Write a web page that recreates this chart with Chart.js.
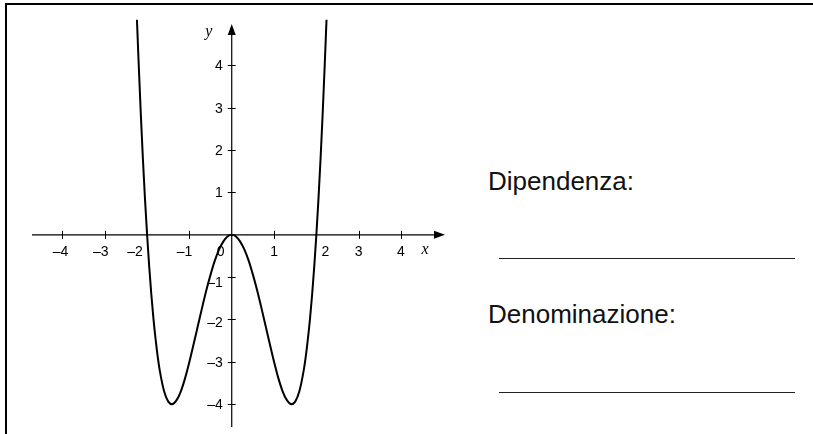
<!DOCTYPE html>
<html lang="it">
<head>
<meta charset="utf-8">
<title>Grafico di funzione</title>
<script src="https://cdn.jsdelivr.net/npm/chart.js@4.4.1/dist/chart.umd.min.js"></script>
<style>
    html, body {
        margin: 0;
        padding: 0;
        background: #fff;
    }
    body {
        width: 813px;
        height: 434px;
        position: relative;
        overflow: hidden;
        font-family: "Liberation Sans", Arial, sans-serif;
    }
    .frame {
        position: absolute;
        left: 5px;
        top: 3px;
        width: 808px;
        height: 431px;
        border-top: 2px solid #000;
        border-left: 2px solid #000;
        box-sizing: border-box;
    }
    .chart-box {
        position: absolute;
        left: 0;
        top: 0;
        width: 460px;
        height: 434px;
    }
    .label {
        position: absolute;
        left: 488px;
        font-size: 26px;
        line-height: 26px;
        color: #111;
        white-space: nowrap;
    }
    .blank {
        position: absolute;
        left: 499px;
        width: 296px;
        border-top: 1px solid #222;
    }
</style>
</head>
<body>
<div class="frame"></div>
<div class="chart-box"><canvas id="functionChart" width="460" height="434"></canvas></div>
<div class="label" style="top:168px">Dipendenza:</div>
<div class="blank" style="top:258px"></div>
<div class="label" style="top:301px">Denominazione:</div>
<div class="blank" style="top:392px"></div>

<script>
// Points
const curveX = [
    -2.24, -2.2, -2.15, -2.1, -2.05, -2.0, -1.95, -1.9, -1.85, -1.8, -1.75, -1.7,
    -1.6, -1.5, -1.41, -1.3, -1.2, -1.1, -1.0, -0.9, -0.8, -0.7, -0.6, -0.5,
    -0.4, -0.3, -0.2, -0.1, 0,
    0.1, 0.2, 0.3, 0.4, 0.5, 0.6, 0.7, 0.8, 0.9, 1.0, 1.1, 1.2, 1.3,
    1.41, 1.5, 1.6, 1.7, 1.75, 1.8, 1.85, 1.9, 1.95, 2.0, 2.05, 2.1,
    2.15, 2.2, 2.24
];
const curveY = [
    5.08, 4.07, 2.88, 1.81, 0.85, 0, -0.75, -1.41, -1.98, -2.46, -2.87, -3.21,
    -3.69, -3.94, -4.0, -3.90, -3.69, -3.38, -3.0, -2.58, -2.15, -1.72, -1.31, -0.94,
    -0.61, -0.35, -0.16, -0.04, 0,
    -0.04, -0.16, -0.35, -0.61, -0.94, -1.31, -1.72, -2.15, -2.58, -3.0, -3.38, -3.69, -3.90,
    -4.0, -3.94, -3.69, -3.21, -2.87, -2.46, -1.98, -1.41, -0.75, 0, 0.85, 1.81,
    2.88, 4.07, 5.08
];

// Axis ticks and their labels
const xTicks = [-4, -3, -2, -1, 0, 1, 2, 3, 4];
const xTickLabels = ['–4', '–3', '–2', '–1', '0', '1', '2', '3', '4'];
const yTicks = [-4, -3, -2, -1, 1, 2, 3, 4];
const yTickLabels = ['–4', '–3', '–2', '–1', '1', '2', '3', '4'];

// Visible extent of the axes (arrow tips at the max ends)
const xRange = [-4.72, 5.04];
const yRange = [-4.54, 4.98];

let functionChart;

// Draws the cartesian axes crossing at the origin, with arrows, ticks and labels
const crossAxesPlugin = {
    id: 'crossAxes',
    beforeDatasetsDraw(chart) {
        const ctx = chart.ctx;
        const xs = chart.scales.x;
        const ys = chart.scales.y;
        const x0 = xs.getPixelForValue(0);
        const y0 = ys.getPixelForValue(0);
        const left = xs.getPixelForValue(xRange[0]);
        const right = xs.getPixelForValue(xRange[1]);
        const top = ys.getPixelForValue(yRange[1]);
        const bottom = ys.getPixelForValue(yRange[0]);

        ctx.save();
        ctx.strokeStyle = '#000';
        ctx.fillStyle = '#000';
        ctx.lineWidth = 1.2;

        // axis lines
        ctx.beginPath();
        ctx.moveTo(left, y0);
        ctx.lineTo(right - 8, y0);
        ctx.moveTo(x0, bottom);
        ctx.lineTo(x0, top + 8);
        ctx.stroke();

        // arrow heads
        ctx.beginPath();
        ctx.moveTo(right, y0);
        ctx.lineTo(right - 11, y0 - 4);
        ctx.lineTo(right - 11, y0 + 4);
        ctx.closePath();
        ctx.fill();
        ctx.beginPath();
        ctx.moveTo(x0, top);
        ctx.lineTo(x0 - 4, top + 11);
        ctx.lineTo(x0 + 4, top + 11);
        ctx.closePath();
        ctx.fill();

        // tick marks
        ctx.lineWidth = 1;
        ctx.beginPath();
        xTicks.forEach(v => {
            if (v === 0) return;
            const px = Math.round(xs.getPixelForValue(v)) + 0.5;
            ctx.moveTo(px, y0 - 4);
            ctx.lineTo(px, y0 + 4);
        });
        yTicks.forEach(v => {
            const py = Math.round(ys.getPixelForValue(v)) + 0.5;
            ctx.moveTo(x0 - 4, py);
            ctx.lineTo(x0 + 4, py);
        });
        ctx.stroke();

        // tick labels (a few nudged away from the curve, as in the original)
        ctx.font = '14px "Liberation Sans", Arial, sans-serif';
        ctx.textAlign = 'center';
        ctx.textBaseline = 'alphabetic';
        const xNudge = { '-2': -12, '0': -11, '2': 9, '-1': -5, '-3': -4, '-4': -2 };
        xTicks.forEach((v, i) => {
            const px = xs.getPixelForValue(v) + (xNudge[v] || 0);
            ctx.fillText(xTickLabels[i], px, y0 + 21);
        });
        ctx.textAlign = 'right';
        ctx.textBaseline = 'middle';
        const yNudge = { '-1': 5, '-2': 3 };
        yTicks.forEach((v, i) => {
            const py = ys.getPixelForValue(v) + (yNudge[v] || 0);
            ctx.fillText(yTickLabels[i], x0 - 9, py + 1);
        });

        // axis names
        ctx.font = 'italic 16px "Liberation Serif", "Times New Roman", serif';
        ctx.textAlign = 'center';
        ctx.textBaseline = 'alphabetic';
        ctx.fillText('x', right - 20, y0 + 19);
        ctx.fillText('y', x0 - 23, top + 12);
        ctx.restore();
    }
};

document.addEventListener('DOMContentLoaded', function() {
    const ctx = document.getElementById('functionChart').getContext('2d');
    const points = curveX.map((x, i) => ({ x: x, y: curveY[i] }));

    functionChart = new Chart(ctx, {
        type: 'scatter',
        data: {
            datasets: [{
                data: points,
                showLine: true,
                borderColor: '#000',
                borderWidth: 2,
                pointRadius: 0,
                cubicInterpolationMode: 'monotone',
                clip: false
            }]
        },
        options: {
            responsive: false,
            animation: false,
            events: [],
            layout: {
                padding: { left: 32, top: 24, right: 15, bottom: 7 }
            },
            scales: {
                x: { type: 'linear', min: xRange[0], max: xRange[1], display: false },
                y: { type: 'linear', min: yRange[0], max: yRange[1], display: false }
            },
            plugins: {
                legend: { display: false },
                tooltip: { enabled: false }
            }
        },
        plugins: [crossAxesPlugin]
    });
});
</script>
</body>
</html>
